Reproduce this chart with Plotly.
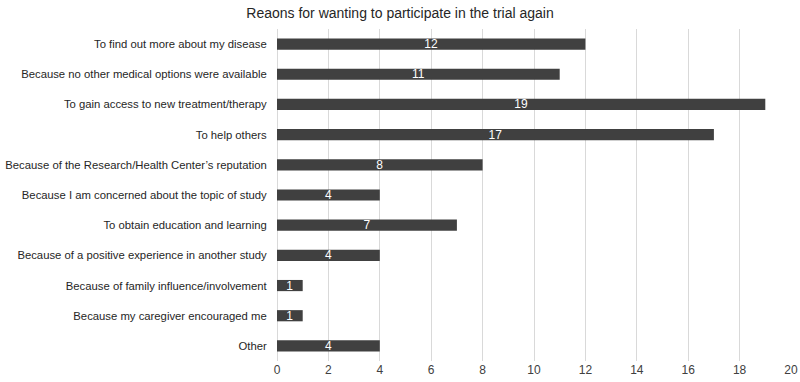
import plotly.graph_objects as go

categories = [
    "To find out more about my disease",
    "Because no other medical options were available",
    "To gain access to new treatment/therapy",
    "To help others",
    "Because of the Research/Health Center\u2019s reputation",
    "Because I am concerned about the topic of study",
    "To obtain education and learning",
    "Because of a positive experience in another study",
    "Because of family influence/involvement",
    "Because my caregiver encouraged me",
    "Other",
]
values = [12, 11, 19, 17, 8, 4, 7, 4, 1, 1, 4]
x_ticks = list(range(0, 21, 2))

font = "Liberation Sans, Arial, sans-serif"

fig = go.Figure(go.Bar(
    x=values,
    y=categories,
    orientation="h",
    marker=dict(color="#404040", line=dict(width=0)),
    text=[str(v) for v in values],
    textposition="inside",
    insidetextanchor="middle",
    textfont=dict(color="white", size=12, family=font),
    textangle=0,
    cliponaxis=False,
))

fig.update_layout(
    width=800, height=382,
    margin=dict(l=277, r=9, t=29, b=21),
    paper_bgcolor="white",
    plot_bgcolor="white",
    bargap=0.63,
    showlegend=False,
    uniformtext=dict(minsize=12, mode="show"),
    title=dict(
        text="Reaons for wanting to participate in the trial again",
        x=0.5, xanchor="center", y=0.965, yanchor="middle",
        font=dict(family=font, size=14, color="#262626"),
        automargin=False,
    ),
    font=dict(family=font, size=12, color="#262626"),
)

fig.update_xaxes(
    range=[0, 20],
    tickvals=x_ticks,
    automargin=False,
    showgrid=True, gridcolor="#d9d9d9", gridwidth=1,
    zeroline=True, zerolinecolor="#d9d9d9", zerolinewidth=1,
    showline=False,
    ticks="", tickfont=dict(size=12, color="#404040"),
)
fig.update_yaxes(
    autorange="reversed",
    automargin=False,
    showgrid=False,
    showline=False,
    ticks="outside", ticklen=7, tickcolor="rgba(0,0,0,0)",
    tickfont=dict(size=11.3, color="#262626"),
)

fig.write_html("out.html")
